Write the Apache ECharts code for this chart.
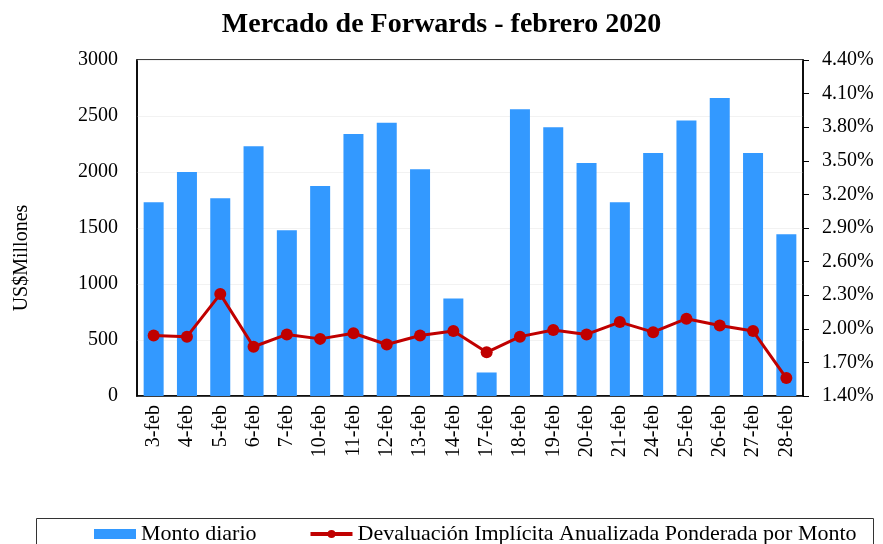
<!DOCTYPE html>
<html>
<head>
<meta charset="utf-8">
<script src="https://cdn.jsdelivr.net/npm/echarts@6/dist/echarts.min.js"></script>
<style>
  html, body { margin:0; padding:0; background:#fff; }
  #main { width:883px; height:544px; }
</style>
</head>
<body>
<div id="main"></div>
<script>
var dias = ['3-feb','4-feb','5-feb','6-feb','7-feb','10-feb','11-feb','12-feb','13-feb','14-feb',
            '17-feb','18-feb','19-feb','20-feb','21-feb','24-feb','25-feb','26-feb','27-feb','28-feb'];
// monto diario (US$ millones)
var montoDiario = [1730, 2000, 1765, 2230, 1480, 1875, 2340, 2440, 2025, 870,
                   210, 2560, 2400, 2080, 1730, 2170, 2460, 2660, 2170, 1445];
// devaluacion implicita anualizada (%)
var devaluacion = [1.94, 1.93, 2.31, 1.84, 1.95, 1.91, 1.96, 1.86, 1.94, 1.98,
                   1.79, 1.93, 1.99, 1.95, 2.06, 1.97, 2.09, 2.03, 1.98, 1.56];
var ticksMonto = [0, 3000, 500];
var ticksPct = [1.4, 4.4, 0.3];

var serif = '"Liberation Serif", "Times New Roman", serif';
var myChart = echarts.init(document.getElementById('main'));

var option = {
    backgroundColor: '#fff',
    animation: false,
    title: {
        text: 'Mercado de Forwards - febrero 2020',
        left: 'center',
        top: 6,
        textStyle: { fontFamily: serif, fontSize: 28, fontWeight: 'bold', color: '#000' }
    },
    grid: {
        left: 137, right: 80, top: 60, bottom: 148,
        show: true, borderColor: '#000', borderWidth: 1.5
    },
    legend: {
        left: 89, top: 518,
        itemWidth: 42, itemHeight: 10, itemGap: 52,
        textStyle: { fontFamily: serif, fontSize: 22, color: '#000' },
        data: [
            { name: 'Monto diario', icon: 'rect' },
            { name: 'Devaluación Implícita Anualizada Ponderada por Monto', lineStyle: { width: 4 } }
        ]
    },
    graphic: [
        {
            type: 'rect', left: 34, top: 516,
            shape: { width: 837, height: 40 },
            style: { fill: 'none', stroke: '#333', lineWidth: 1 }
        },
        {
            type: 'text', x: 22, y: 258, rotation: Math.PI / 2,
            style: { text: 'US$Millones', font: '20px ' + serif, fill: '#000', align: 'center', verticalAlign: 'middle' }
        }
    ],
    xAxis: {
        type: 'category',
        data: dias,
        axisLine: { lineStyle: { color: '#000', width: 1.5 } },
        axisTick: { show: false },
        axisLabel: { rotate: 90, margin: 9, color: '#000', fontFamily: serif, fontSize: 20, interval: 0 }
    },
    yAxis: [
        {
            type: 'value',
            min: ticksMonto[0], max: ticksMonto[1], interval: ticksMonto[2],
            axisLine: { show: true, lineStyle: { color: '#000', width: 1.5 } },
            axisTick: { show: false },
            axisLabel: {
                margin: 19, color: '#000', fontFamily: serif, fontSize: 20,
                formatter: function (v) { return String(v); }
            },
            splitLine: { lineStyle: { color: '#f2f2f2' } }
        },
        {
            type: 'value',
            min: ticksPct[0], max: ticksPct[1], interval: ticksPct[2],
            position: 'right',
            axisLine: { show: true, lineStyle: { color: '#000', width: 1.5 } },
            axisTick: { show: true, length: 6, lineStyle: { color: '#000' } },
            axisLabel: {
                margin: 19, color: '#000', fontFamily: serif, fontSize: 20,
                formatter: function (v) { return v.toFixed(2) + '%'; }
            },
            splitLine: { show: false }
        }
    ],
    series: [
        {
            name: 'Monto diario',
            type: 'bar',
            data: montoDiario,
            barWidth: 20,
            itemStyle: { color: '#3399ff' }
        },
        {
            name: 'Devaluación Implícita Anualizada Ponderada por Monto',
            type: 'line',
            yAxisIndex: 1,
            data: devaluacion,
            symbol: 'circle',
            symbolSize: 12,
            lineStyle: { color: '#c00000', width: 3 },
            itemStyle: { color: '#c00000' }
        }
    ]
};

myChart.setOption(option);
</script>
</body>
</html>
